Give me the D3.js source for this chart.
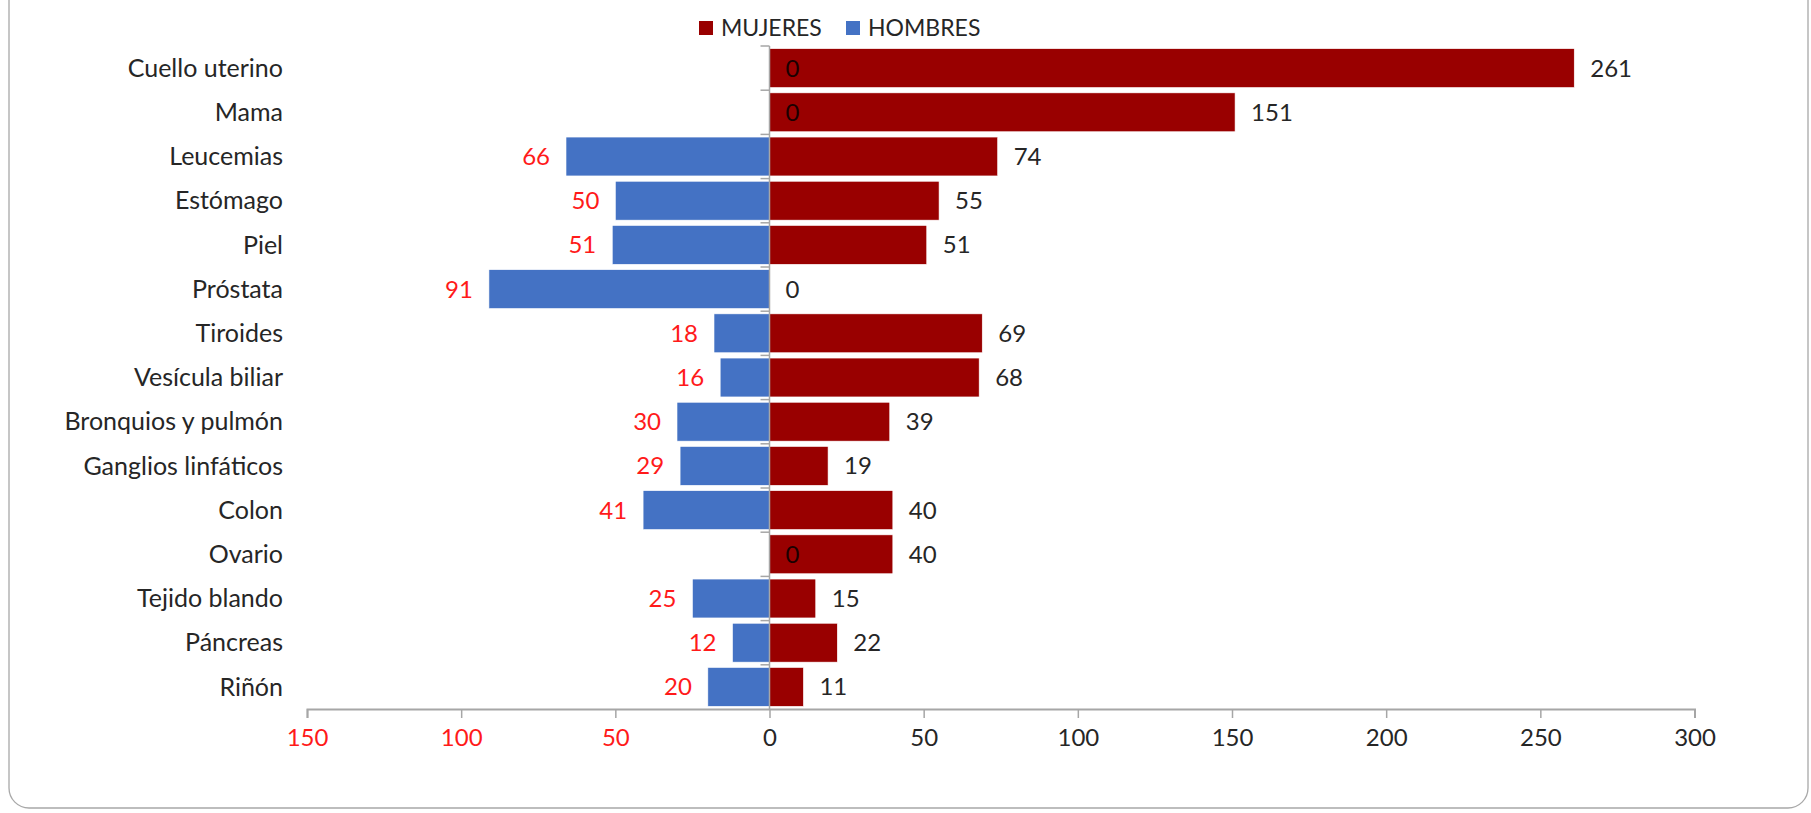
<!DOCTYPE html>
<html><head><meta charset="utf-8">
<script src="https://cdn.jsdelivr.net/npm/d3@7"></script>
<style>html,body{margin:0;padding:0;background:#fff;}svg{display:block;}</style>
</head><body>
<svg id="chart" width="1811" height="813"></svg>
<script>
const categories = ["Cuello uterino","Mama","Leucemias","Estómago","Piel","Próstata","Tiroides","Vesícula biliar","Bronquios y pulmón","Ganglios linfáticos","Colon","Ovario","Tejido blando","Páncreas","Riñón"];
const mujeres = [261,151,74,55,51,0,69,68,39,19,40,40,15,22,11];
const hombres = [0,0,66,50,51,91,18,16,30,29,41,0,25,12,20];
const ticks = [-150,-100,-50,0,50,100,150,200,250,300];
const seriesNames = ["MUJERES","HOMBRES"];

const colM = "#990000", colH = "#4472C4", red = "#FF1A1A", dark = "#262626", grey = "#A6A6A6";
const font = "Lato, 'Open Sans', sans-serif";
const svg = d3.select("#chart");

// frame
svg.append("rect").attr("x",9).attr("y",-40).attr("width",1799).attr("height",848)
  .attr("rx",20).attr("fill","none").attr("stroke","#A8A8A8").attr("stroke-width",1.3);

const x = d3.scaleLinear().domain([-150,300]).range([307,1694.5]);
const y = d3.scaleBand().domain(categories).range([46,709]).paddingInner(0.12).paddingOuter(0.06);

// bars
svg.append("g").selectAll("rect").data(categories).join("rect")
  .attr("x",(d,i)=>x(-hombres[i])).attr("width",(d,i)=>x(0)-x(-hombres[i]))
  .attr("y",d=>y(d)).attr("height",y.bandwidth()).attr("fill",colH)
  .attr("stroke","#fff").attr("stroke-width",0.6);
svg.append("g").selectAll("rect").data(categories).join("rect")
  .attr("x",x(0)).attr("width",(d,i)=>x(mujeres[i])-x(0))
  .attr("y",d=>y(d)).attr("height",y.bandwidth()).attr("fill",colM)
  .attr("stroke","#fff").attr("stroke-width",0.6);

// vertical axis at zero
const va = svg.append("g").attr("transform",`translate(${x(0)},0)`);
va.append("line").attr("x1",0).attr("x2",0).attr("y1",46).attr("y2",709).attr("stroke",grey).attr("stroke-width",1.5);
const bounds = d3.range(categories.length).map(i=>46 + i*y.step());
va.selectAll("line.t").data(bounds).join("line").attr("class","t")
  .attr("x1",-9).attr("x2",0).attr("y1",d=>d).attr("y2",d=>d).attr("stroke",grey).attr("stroke-width",1.5);

// category labels
svg.append("g").selectAll("text").data(categories).join("text")
  .attr("x",283).attr("y",d=>y(d)+y.bandwidth()/2).attr("dy","0.35em")
  .attr("text-anchor","end").attr("font-family",font).attr("font-size",25).attr("fill",dark)
  .text(d=>d);

// bottom axis
const xAxis = d3.axisBottom(x).tickValues(ticks).tickSize(9).tickFormat(d=>Math.abs(d));
const ax = svg.append("g").attr("transform","translate(0,709)").call(xAxis);
ax.select(".domain").attr("stroke",grey).attr("stroke-width",2);
ax.selectAll(".tick line").attr("stroke",grey).attr("stroke-width",1.5);
ax.selectAll(".tick text").attr("font-family",font).attr("font-size",24)
  .attr("y",20).attr("dy","0.71em").attr("fill",d=>d<0?red:dark);

// data labels
svg.append("g").selectAll("text").data(categories).join("text")
  .attr("x",(d,i)=>x(mujeres[i])+16).attr("y",d=>y(d)+y.bandwidth()/2).attr("dy","0.35em")
  .attr("font-family",font).attr("font-size",24).attr("fill",dark)
  .text((d,i)=>mujeres[i]);
svg.append("g").selectAll("text").data(categories).join("text")
  .attr("x",(d,i)=>hombres[i]===0 ? x(0)+16 : x(-hombres[i])-16)
  .attr("text-anchor",(d,i)=>hombres[i]===0?"start":"end")
  .attr("y",d=>y(d)+y.bandwidth()/2).attr("dy","0.35em")
  .attr("font-family",font).attr("font-size",24)
  .attr("fill",(d,i)=>hombres[i]===0?"#1a0000":red)
  .text((d,i)=>hombres[i]);

// legend
const leg = svg.append("g");
const legX = [699, 846], legC = [colM, colH];
seriesNames.forEach((n,i)=>{
  leg.append("rect").attr("x",legX[i]).attr("y",21).attr("width",14).attr("height",14).attr("fill",legC[i]);
  leg.append("text").attr("x",legX[i]+22).attr("y",28).attr("dy","0.35em")
    .attr("font-family",font).attr("font-size",23).attr("fill",dark).text(n);
});
</script>
</body></html>
